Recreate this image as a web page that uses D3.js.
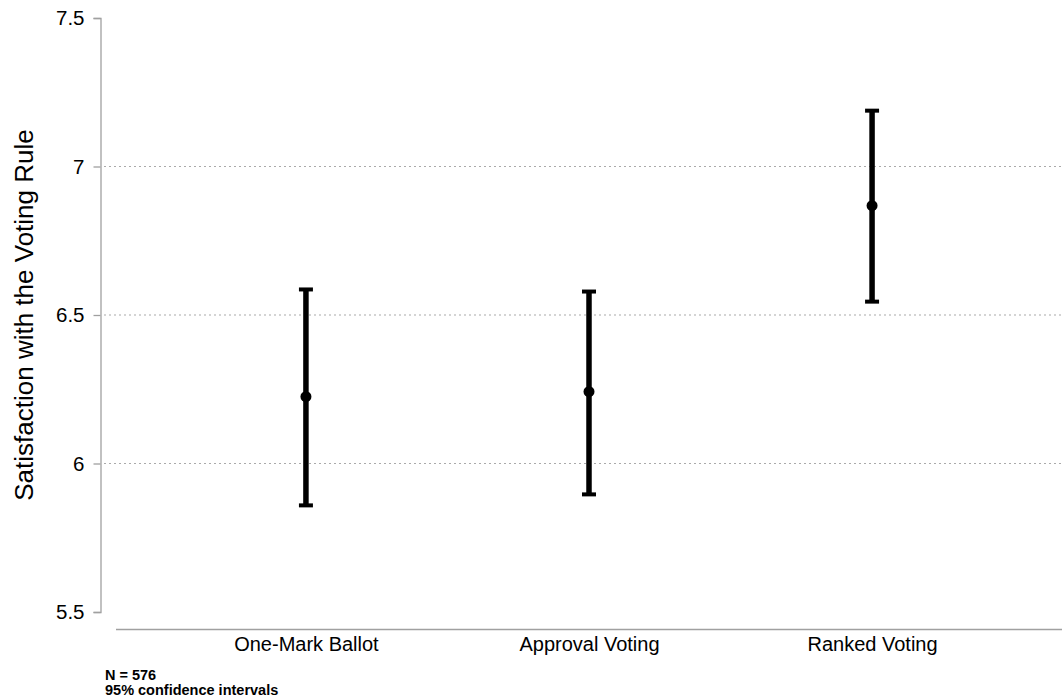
<!DOCTYPE html>
<html><head><meta charset="utf-8">
<script src="https://cdn.jsdelivr.net/npm/d3@7"></script>
<style>body{margin:0;background:#fff}svg{display:block}text{font-family:"Liberation Sans",Arial,sans-serif}</style>
</head><body>
<svg id="c" width="1063" height="700"></svg>
<script>
const categories = ["One-Mark Ballot", "Approval Voting", "Ranked Voting"];
const means = [6.225, 6.242, 6.868];
const lower = [5.859, 5.896, 6.545];
const upper = [6.586, 6.579, 7.188];
const yTicks = [5.5, 6, 6.5, 7, 7.5];
const gridTicks = [6, 6.5, 7];
const notes = ["N = 576", "95% confidence intervals"];

const svg = d3.select("#c");
const y = d3.scaleLinear().domain([5.5, 7.5]).range([612, 18]);
const x = d3.scalePoint().domain(categories).range([116, 1062]).padding(0.671);
const FF = '"Liberation Sans",Arial,sans-serif';

// gridlines
svg.append("g").selectAll("line").data(gridTicks).join("line")
  .attr("x1", 104).attr("x2", 1063)
  .attr("y1", d => y(d)).attr("y2", d => y(d))
  .attr("stroke", "#aaa").attr("stroke-width", 1.2).attr("stroke-dasharray", "2,3");

// y axis
const ya = svg.append("g").attr("transform", "translate(100.5,0)")
  .call(d3.axisLeft(y).tickValues(yTicks).tickSize(7).tickPadding(9).tickFormat(d3.format("")));
ya.select(".domain").attr("stroke", "#a0a0a0").attr("stroke-width", 1.3);
ya.selectAll(".tick line").attr("stroke", "#a0a0a0").attr("stroke-width", 1.3);
ya.selectAll(".tick text").attr("font-size", 20.5).attr("fill", "#000").style("font-family", FF);

// x axis
const xa = svg.append("g").attr("transform", "translate(0,629.5)")
  .call(d3.axisBottom(x).tickSize(0).tickPadding(7));
xa.select(".domain").attr("d", "M116,0H1062").attr("stroke", "#a0a0a0").attr("stroke-width", 1.3);
xa.selectAll(".tick text").attr("font-size", 20).attr("fill", "#000").style("font-family", FF);

// y title
svg.append("text").attr("transform", "translate(33,315) rotate(-90)")
  .attr("text-anchor", "middle").attr("font-size", 26).text("Satisfaction with the Voting Rule");

// error bars
const g = svg.append("g");
categories.forEach((c, i) => {
  const cx = x(c);
  g.append("line").attr("x1", cx).attr("x2", cx).attr("y1", y(upper[i])).attr("y2", y(lower[i]))
    .attr("stroke", "#000").attr("stroke-width", 5.5);
  [upper[i], lower[i]].forEach(v => {
    g.append("line").attr("x1", cx - 7).attr("x2", cx + 7).attr("y1", y(v)).attr("y2", y(v))
      .attr("stroke", "#000").attr("stroke-width", 4);
  });
  g.append("circle").attr("cx", cx).attr("cy", y(means[i])).attr("r", 5.5).attr("fill", "#000");
});

// notes
svg.append("g").selectAll("text").data(notes).join("text")
  .attr("x", 105).attr("y", (d, i) => 680 + i * 15)
  .attr("font-size", 14.5).attr("font-weight", "bold").text(d => d);
</script>
</body></html>
